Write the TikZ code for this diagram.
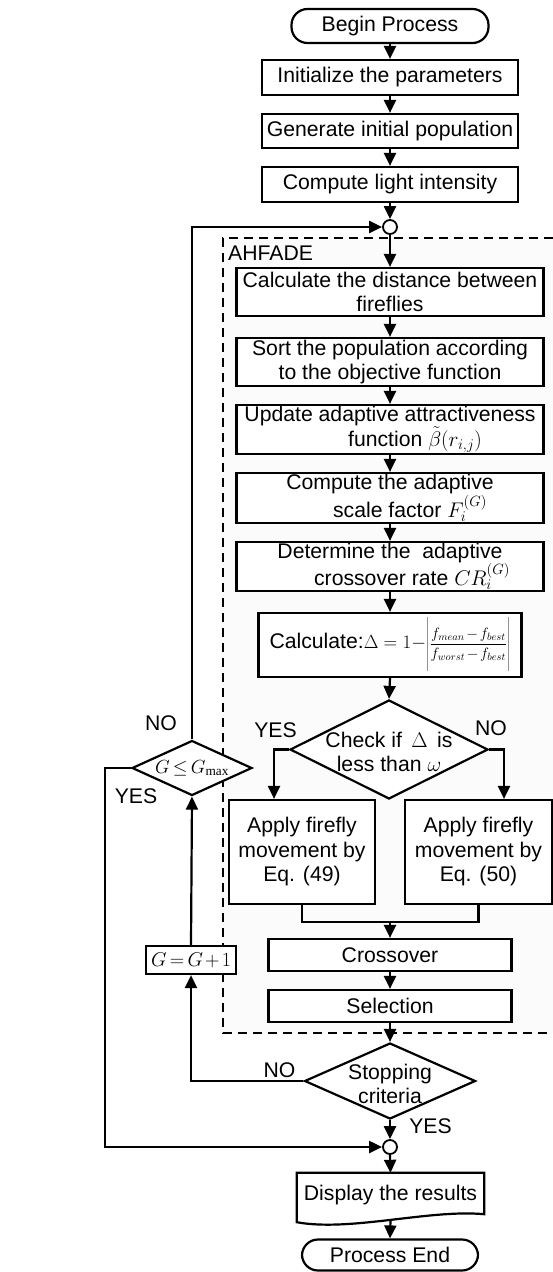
\RequirePackage{fix-cm}
\documentclass[tikz,border=0pt]{standalone}
\usepackage{fontspec}
\setmainfont{Liberation Sans}
\setmathrm{Liberation Serif}
\usetikzlibrary{shapes.geometric,arrows.meta,calc}

\newcommand\fs{\fontsize{21.2}{24.5}\selectfont}
\newcommand\tightmath{\medmuskip=2mu\thickmuskip=3mu}

\begin{document}
\begin{tikzpicture}[x=1pt,y=-1pt,
  every node/.style={font=\fs, inner sep=0pt},
  box/.style={draw, fill=white, line width=2.2pt, align=center},
  term/.style={box, rounded corners=16pt},
  dec/.style={draw, fill=white, line width=2.2pt, diamond, inner sep=0pt},
  junc/.style={circle, draw, fill=white, line width=1.8pt, minimum size=14pt},
  arr/.style={line width=2.2pt, -{Triangle[length=13pt,width=12pt]}},
  link/.style={line width=2.2pt},
  region/.style={line width=1.6pt, dash pattern=on 9pt off 6pt}
]
\useasboundingbox (0,0) rectangle (553,1272);

% shaded AHFADE region with its dashed frame (open on the right)
\fill[gray!3] (223,238) rectangle (553,1033);
\draw[region] (553,238) -- (223,238) -- (223,1033) -- (553,1033);

% main column
\node[term, minimum width=197pt, minimum height=34pt] (begin) at (390,26) {Begin Process};
\node[box, minimum width=256pt, minimum height=35pt] (init) at (390,77.5) {Initialize the parameters};
\node[box, minimum width=256pt, minimum height=34pt] (gen) at (390,131) {Generate initial population};
\node[box, minimum width=256pt, minimum height=35pt] (light) at (390,184.5) {Compute light intensity};
\node[junc] (j1) at (390,227) {};
\node[anchor=base west] (ahf) at (228,260) {AHFADE};
\node[box, minimum width=307pt, minimum height=48pt] (dist) at (390,292)
  {Calculate the distance between\\fireflies};
\node[box, minimum width=307pt, minimum height=48pt] (sort) at (390,362)
  {Sort the population according\\to the objective function};
\node[box, minimum width=307pt, minimum height=49pt] (upd) at (390,429.5)
  {Update adaptive attractiveness\\\hspace*{50pt}function $\tilde{\beta}(r_{i,j})$};
\node[box, minimum width=307pt, minimum height=50pt] (scl) at (390,498)
  {Compute the adaptive\\\hspace*{40pt}scale factor $F_i^{(G)}$};
\node[box, minimum width=307pt, minimum height=49pt] (det) at (390,566.5)
  {Determine the\ \ adaptive\\\hspace*{44pt}crossover rate $CR_i^{(G)}$};
\node[box, minimum width=263pt, minimum height=64pt] (calc) at (390,645)
  {Calculate:{\fontsize{19}{22}\selectfont$\Delta=1-$}{\fontsize{15}{18}\selectfont\tightmath$\left|\rule[-24pt]{0pt}{52pt}\displaystyle\frac{f_{mean}-f_{best}}{f_{worst}-f_{best}}\right|$}};

\node[dec, minimum width=198pt, minimum height=99pt] (chk) at (389,749.5) {};
\node[align=center] (chkt) at (389,752) {Check if \,$\Delta$\, is\\less than $\omega$};

\node[box, minimum width=146pt, minimum height=104pt] (lapp) at (302,852)
  {Apply firefly\\movement by\\Eq. (49)};
\node[box, minimum width=147pt, minimum height=104pt] (rapp) at (478.5,852)
  {Apply firefly\\movement by\\Eq. (50)};
\coordinate (mg) at (390,922);

\node[box, minimum width=243pt, minimum height=32pt] (cross) at (390,955) {Crossover};
\node[box, minimum width=243pt, minimum height=32pt] (sel) at (390,1006) {Selection};

\node[dec, minimum width=171pt, minimum height=76pt] (stop) at (390,1081) {};
\node[align=center] (stopt) at (390,1084) {Stopping\\criteria};

% generation loop on the left
\node[box, minimum width=90pt, minimum height=28pt, font=\fontsize{20}{22}\selectfont\tightmath] (gp) at (191,960) {$G=G+1$};
\node[dec, minimum width=120pt, minimum height=55pt] (gd) at (192,768) {};
\node[font=\fontsize{19}{21}\selectfont\tightmath] (gdt) at (192,768) {$G\le G_{\max}$};
\coordinate (yl) at (105,768);

% output
\node[junc] (j2) at (390,1147) {};
\node[minimum width=187pt, minimum height=44pt] (disp) at (390.5,1195) {Display the results};
\draw[link] (disp.north west) -- (disp.north east) -- ($(disp.south east)+(0,-3)$)
  .. controls (430,1209) and (350,1232) .. ($(disp.south west)+(0,5)$) -- cycle;
\coordinate (dispb) at ($(disp.south)+(0,3)$);
\node[term, minimum width=176pt, minimum height=31pt] (end) at (390,1255) {Process End};

% branch labels
\node (yes1) at (275.5,730.5) {YES};
\node (no1) at (491,728) {NO};
\node (no2) at (161,723.5) {NO};
\node (yes2) at (136,796.5) {YES};
\node (no3) at (279.5,1070.5) {NO};
\node (yes3) at (430.5,1126) {YES};

% connectors
\draw[arr] (begin.south) -- (init.north);
\draw[arr] (init.south) -- (gen.north);
\draw[arr] (gen.south) -- (light.north);
\draw[arr] (light.south) -- (j1.north);
\draw[arr] (j1.south) -- (dist.north);
\draw[arr] (dist.south) -- (sort.north);
\draw[arr] (sort.south) -- (upd.north);
\draw[arr] (upd.south) -- (scl.north);
\draw[arr] (scl.south) -- (det.north);
\draw[arr] (det.south) -- (calc.north);
\draw[arr] (calc.south) -- (chk.north);
\coordinate (lb) at (274,749.5);
\coordinate (rb) at (504,749.5);
\draw[arr] (chk.west) -- (lb) -- (lb |- lapp.north);
\draw[arr] (chk.east) -- (rb) -- (rb |- rapp.north);
\draw[link] (lapp.south) |- (mg) -| (rapp.south);
\draw[arr] (mg) -- (cross.north);
\draw[arr] (cross.south) -- (sel.north);
\draw[arr] (sel.south) -- (stop.north);
\draw[arr] (stop.west) -| (gp.south);
\draw[arr] (gp.north) -- (gd.south);
\draw[arr] (gd.north) |- (j1.west);
\draw[arr] (gd.west) -- (yl) |- (j2.west);
\draw[arr] (stop.south) -- (j2.north);
\draw[arr] (j2.south) -- (disp.north);
\draw[arr] (dispb) -- (end.north);
\end{tikzpicture}
\end{document}
